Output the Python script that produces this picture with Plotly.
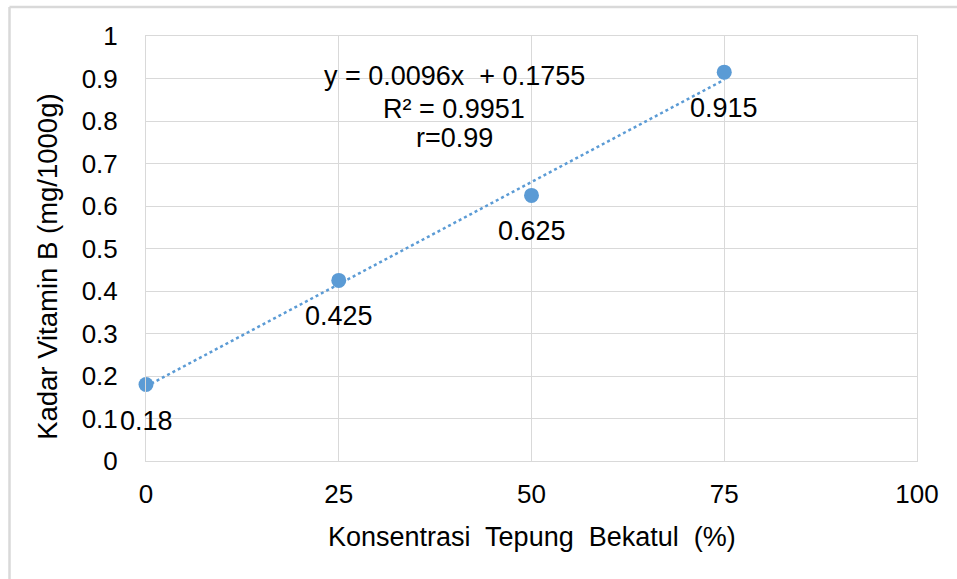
import numpy as np
import plotly.graph_objects as go

# Data
konsentrasi = [0, 25, 50, 75]
vitamin_b = [0.18, 0.425, 0.625, 0.915]
label_text = ["0.18", "0.425", "0.625", "0.915"]
x_ticks = [0, 25, 50, 75, 100]
y_ticks = [0, 0.1, 0.2, 0.3, 0.4, 0.5, 0.6, 0.7, 0.8, 0.9, 1]
y_tick_text = ["0", "0.1", "0.2", "0.3", "0.4", "0.5", "0.6", "0.7", "0.8", "0.9", "1"]
equation_lines = ["y = 0.0096x  + 0.1755", "R² = 0.9951", "r=0.99"]
x_title = "Konsentrasi  Tepung  Bekatul  (%)"
y_title = "Kadar Vitamin B (mg/1000g)"

BLUE = "#5B9BD5"
GRID = "#D9D9D9"
FONT = "Liberation Sans, Arial, sans-serif"

# Linear trendline fitted from the data
slope, intercept = np.polyfit(konsentrasi, vitamin_b, 1)
trend_x = np.array([min(konsentrasi), max(konsentrasi)], dtype=float)
trend_y = slope * trend_x + intercept

fig = go.Figure()
fig.add_trace(go.Scatter(
    x=trend_x, y=trend_y, mode="lines",
    line=dict(color=BLUE, width=2.5, dash="dot"),
    hoverinfo="skip", showlegend=False, cliponaxis=False,
))
fig.add_trace(go.Scatter(
    x=konsentrasi, y=vitamin_b, mode="markers",
    marker=dict(color=BLUE, size=15),
    showlegend=False, cliponaxis=False,
))

annotations = []
for xv, yv, t in zip(konsentrasi, vitamin_b, label_text):
    annotations.append(dict(
        x=xv, y=yv, xref="x", yref="y", text=t, showarrow=False,
        yshift=-36, xanchor="center", yanchor="middle",
        font=dict(family=FONT, size=27, color="#000000"),
    ))

eq_y = [0.906, 0.828, 0.760]
for line, yy in zip(equation_lines, eq_y):
    annotations.append(dict(
        x=40, y=yy, xref="x", yref="y", text=line, showarrow=False,
        xanchor="center", yanchor="middle",
        font=dict(family=FONT, size=27, color="#000000"),
    ))

annotations.append(dict(
    x=0.5, y=-0.179, xref="paper", yref="paper", text=x_title, showarrow=False,
    xanchor="center", yanchor="middle",
    font=dict(family=FONT, size=27, color="#000000"),
))
annotations.append(dict(
    x=-0.127, y=0.457, xref="paper", yref="paper", text=y_title, showarrow=False,
    xanchor="center", yanchor="middle", textangle=-90,
    font=dict(family=FONT, size=27.5, color="#000000"),
))

ml, mr, mt, mb = 146, 40, 36, 118
W, H = 957, 579
pw, ph = W - ml - mr, H - mt - mb

def px_x(p):
    return (p - ml) / pw

def px_y(p):
    return (H - mb - p) / ph

shapes = [
    dict(type="line", xref="paper", yref="paper",
         x0=px_x(9.5), x1=px_x(960), y0=px_y(7), y1=px_y(7),
         line=dict(color=GRID, width=2.5)),
    dict(type="line", xref="paper", yref="paper",
         x0=px_x(9.5), x1=px_x(9.5), y0=px_y(7), y1=px_y(585),
         line=dict(color=GRID, width=2.5)),
]

fig.update_layout(
    width=W, height=H,
    margin=dict(l=ml, r=mr, t=mt, b=mb),
    paper_bgcolor="white", plot_bgcolor="white",
    annotations=annotations, shapes=shapes,
    font=dict(family=FONT, size=26, color="#000000"),
)
fig.update_xaxes(
    range=[0, 100], tickvals=x_ticks, ticktext=[str(v) for v in x_ticks],
    showgrid=True, gridcolor=GRID, gridwidth=1,
    showline=True, linecolor=GRID, linewidth=1, mirror=True,
    zeroline=False, ticks="", ticklabelstandoff=10,
    tickfont=dict(family=FONT, size=26, color="#000000"),
)
fig.update_yaxes(
    range=[0, 1], tickvals=y_ticks, ticktext=y_tick_text,
    showgrid=True, gridcolor=GRID, gridwidth=1,
    showline=True, linecolor=GRID, linewidth=1, mirror=True,
    zeroline=False, ticks="", ticklabelstandoff=22,
    tickfont=dict(family=FONT, size=26, color="#000000"),
)

fig.write_html(
    "out.html",
    config={"displayModeBar": False},
    post_script="document.body.style.margin='0';document.body.style.overflow='hidden';",
)
